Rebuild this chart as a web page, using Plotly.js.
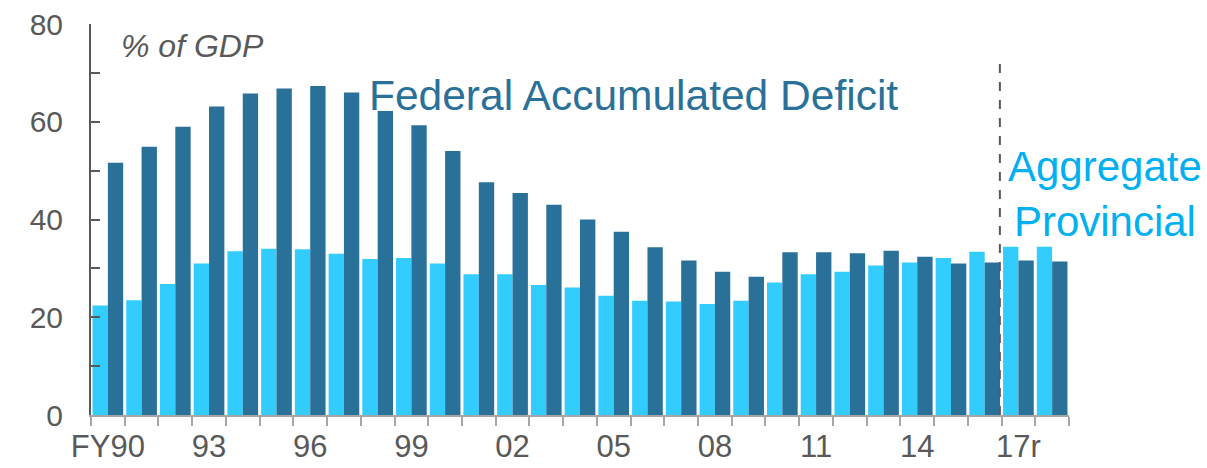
<!DOCTYPE html>
<html><head><meta charset="utf-8">
<script src="https://cdn.plot.ly/plotly-3.0.1.min.js"></script>
<style>html,body{margin:0;padding:0;background:#fff}#chart{width:1207px;height:468px}</style>
</head><body><div id="chart"></div>
<script>
const categories = ["FY90","FY91","FY92","FY93","FY94","FY95","FY96","FY97","FY98","FY99",
  "FY00","FY01","FY02","FY03","FY04","FY05","FY06","FY07","FY08","FY09",
  "FY10","FY11","FY12","FY13","FY14","FY15","FY16","FY17","FY18"];
const provincial = [22.4,23.5,26.8,31.0,33.5,34.0,33.9,33.0,31.9,32.1,
  31.0,28.8,28.8,26.6,26.1,24.4,23.4,23.2,22.7,23.4,
  27.1,28.8,29.3,30.6,31.2,32.1,33.4,34.4,34.4];
const federal = [51.6,54.9,59.0,63.1,65.8,66.8,67.3,66.0,62.2,59.3,
  54.0,47.6,45.4,43.0,40.0,37.5,34.3,31.6,29.3,28.3,
  33.3,33.3,33.1,33.6,32.4,31.0,31.2,31.6,31.4];
const tickCategories = ["FY90","FY93","FY96","FY99","FY02","FY05","FY08","FY11","FY14","FY17"];
const tickLabels = ["FY90","93","96","99","02","05","08","11","14","17r"];
const forecastStart = "FY17";
const dashTop = 72.3;

const FONT = "Liberation Sans, Arial, sans-serif";
const GRAY = "#595959";
const DARK = "#2a7199";
const LIGHT = "#33ccff";

const ticktext = categories.map(c => {
  const i = tickCategories.indexOf(c);
  return i >= 0 ? tickLabels[i] : "";
});
const dashX = categories.indexOf(forecastStart) - 0.55;

const traces = [
  {type:"bar", name:"Aggregate Provincial", x:categories, y:provincial, marker:{color:LIGHT}},
  {type:"bar", name:"Federal Accumulated Deficit", x:categories, y:federal, marker:{color:DARK}}
];

const layout = {
  width:1207, height:468,
  margin:{l:91, r:138, t:24, b:53},
  paper_bgcolor:"#fff", plot_bgcolor:"#fff",
  showlegend:false,
  barmode:"group", bargap:0.09, bargroupgap:0,
  font:{family:FONT, color:GRAY, size:28},
  xaxis:{
    type:"category", tickmode:"array", tickvals:categories, ticktext:ticktext, tickangle:0,
    tickson:"boundaries", ticks:"outside", ticklen:9, tickwidth:2, tickcolor:"#a6a6a6",
    showline:true, linecolor:"#a6a6a6", linewidth:2, showgrid:false, zeroline:false,
    tickfont:{family:FONT, size:31, color:GRAY}, ticklabelstandoff:3, fixedrange:true
  },
  yaxis:{
    range:[0,80], dtick:20, tick0:0, ticks:"inside", ticklen:9, tickwidth:2, tickcolor:GRAY,
    showline:true, linecolor:GRAY, linewidth:2, showgrid:false, zeroline:false,
    minor:{dtick:10, tick0:0, ticks:"inside", ticklen:9, tickwidth:2, tickcolor:GRAY, showgrid:false},
    tickfont:{family:FONT, size:30, color:GRAY}, ticklabelstandoff:20, fixedrange:true
  },
  shapes:[{type:"line", xref:"x", yref:"y", x0:dashX, x1:dashX, y0:0, y1:dashTop,
    line:{color:GRAY, width:2, dash:"dash"}}],
  annotations:[
    {xref:"paper", yref:"paper", x:0.029, y:0.944, xanchor:"left", yanchor:"middle",
     text:"<i>% of GDP</i>", showarrow:false, font:{family:FONT, size:32, color:GRAY}},
    {xref:"paper", yref:"paper", x:0.282, y:0.817, xanchor:"left", yanchor:"middle",
     text:"Federal Accumulated Deficit", showarrow:false, font:{family:FONT, size:42.5, color:DARK}},
    {xref:"paper", yref:"paper", x:1.0368, y:0.565, xanchor:"center", yanchor:"middle", align:"center",
     text:"Aggregate<br>Provincial", showarrow:false, font:{family:FONT, size:42, color:"#00b0f0"}}
  ]
};

Plotly.newPlot("chart", traces, layout, {displayModeBar:false, staticPlot:true});
</script>
</body></html>
